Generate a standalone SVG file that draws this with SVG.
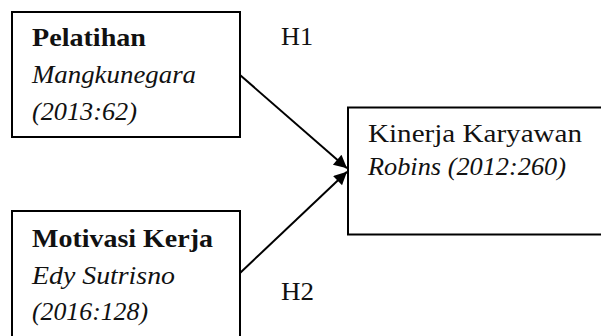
<svg xmlns="http://www.w3.org/2000/svg" width="601" height="336" viewBox="0 0 601 336">
  <style>
    .box { fill: #ffffff; stroke: #000000; stroke-width: 2; }
    .t { font-family: "Liberation Serif", "DejaVu Serif", serif; font-size: 26px; fill: #111111; }
    .b { font-weight: bold; }
    .i { font-style: italic; }
    .edge { stroke: #000000; stroke-width: 2; fill: none; }
  </style>
  <defs>
    <marker id="arrow" viewBox="0 0 10 10" refX="10" refY="5" markerWidth="8" markerHeight="6.5" markerUnits="strokeWidth" orient="auto">
      <path d="M0,0 L10,5 L0,10 Z" fill="#000000"/>
    </marker>
  </defs>
  <rect width="601" height="336" fill="#ffffff"/>

  <g id="pelatihan">
    <rect class="box" x="12" y="12" width="228" height="125"/>
    <text class="t b" x="32" y="46" textLength="114" lengthAdjust="spacingAndGlyphs">Pelatihan</text>
    <text class="t i" x="32" y="83" textLength="164" lengthAdjust="spacingAndGlyphs">Mangkunegara</text>
    <text class="t i" x="32" y="120" textLength="105" lengthAdjust="spacingAndGlyphs">(2013:62)</text>
  </g>

  <g id="motivasi">
    <rect class="box" x="12" y="211" width="228" height="140"/>
    <text class="t b" x="32" y="247" textLength="181" lengthAdjust="spacingAndGlyphs">Motivasi Kerja</text>
    <text class="t i" x="32" y="283.5" textLength="143" lengthAdjust="spacingAndGlyphs">Edy Sutrisno</text>
    <text class="t i" x="32" y="320" textLength="116" lengthAdjust="spacingAndGlyphs">(2016:128)</text>
  </g>

  <g id="kinerja">
    <rect class="box" x="348" y="107.5" width="270" height="127"/>
    <text class="t" x="368" y="141.5" textLength="214" lengthAdjust="spacingAndGlyphs">Kinerja Karyawan</text>
    <text class="t i" x="368" y="175" textLength="198" lengthAdjust="spacingAndGlyphs">Robins (2012:260)</text>
  </g>

  <g id="connectors">
    <line class="edge" x1="240" y1="75" x2="347" y2="168.3" marker-end="url(#arrow)"/>
    <line class="edge" x1="240" y1="273" x2="347" y2="171.7" marker-end="url(#arrow)"/>
    <text class="t" x="281" y="45" textLength="32" lengthAdjust="spacingAndGlyphs">H1</text>
    <text class="t" x="281" y="300" textLength="33" lengthAdjust="spacingAndGlyphs">H2</text>
  </g>
</svg>
